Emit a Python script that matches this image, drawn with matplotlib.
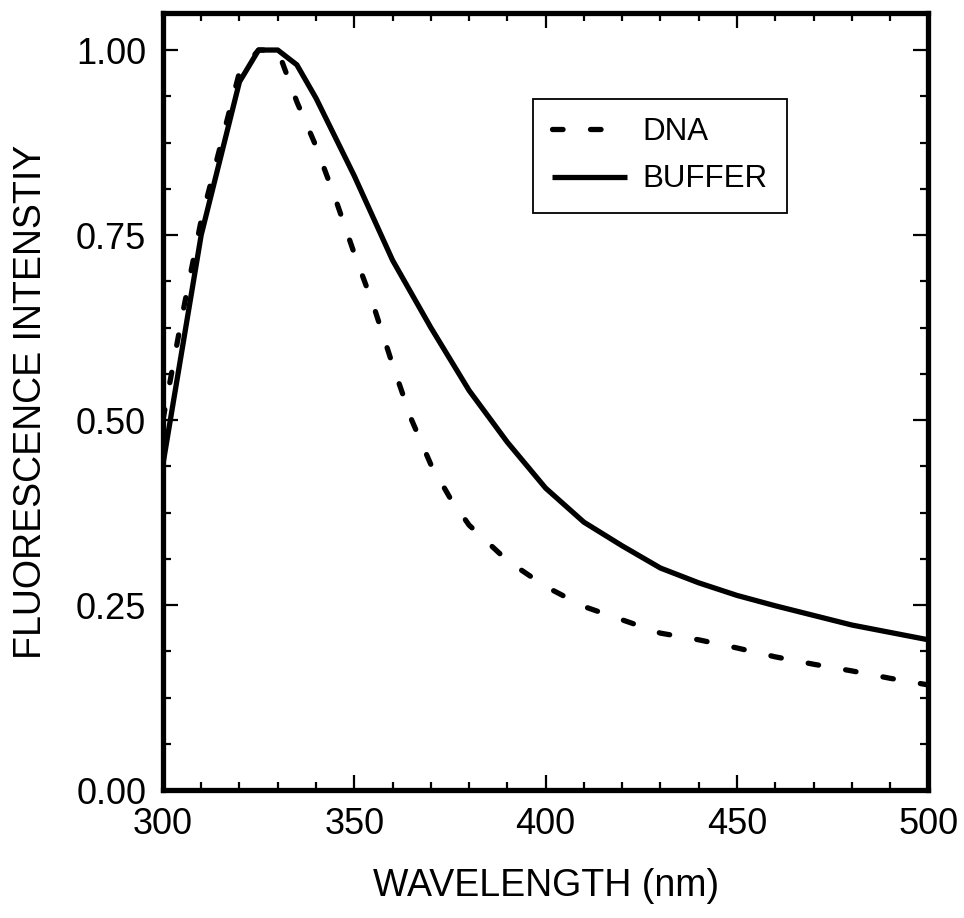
import numpy as np
import matplotlib.pyplot as plt
from matplotlib.ticker import MultipleLocator

plt.rcParams['font.family'] = ['Liberation Sans', 'DejaVu Sans']

# DNA spectrum (dashed)
dna_wl = [300, 305, 310, 315, 320, 325, 330, 335, 340, 345, 350, 355, 360, 365,
          370, 375, 380, 390, 400, 410, 420, 430, 440, 450, 460, 470, 480, 490, 500]
dna_int = [0.50, 0.64, 0.77, 0.87, 0.97, 1.00, 1.00, 0.93, 0.87, 0.80, 0.725, 0.655,
           0.575, 0.50, 0.44, 0.395, 0.358, 0.31, 0.275, 0.248, 0.23, 0.212, 0.203,
           0.192, 0.18, 0.17, 0.161, 0.151, 0.142]

# buffer spectrum (solid)
buf_wl = [300, 310, 320, 325, 330, 335, 340, 350, 360, 370, 380, 390, 400, 410,
          420, 430, 440, 450, 460, 470, 480, 490, 500]
buf_int = [0.44, 0.75, 0.957, 1.00, 1.00, 0.98, 0.935, 0.83, 0.716, 0.625, 0.54,
           0.47, 0.408, 0.362, 0.33, 0.30, 0.28, 0.263, 0.249, 0.236, 0.223, 0.213, 0.203]

fig = plt.figure(figsize=(9.64, 9.18), dpi=100)
ax = fig.add_axes([0.169, 0.1394, 0.794, 0.8464])

ax.plot(dna_wl, dna_int, color='black', lw=3.8, linestyle=(0, (2.0, 5.2)),
        dash_capstyle='round', label='DNA')
ax.plot(buf_wl, buf_int, color='black', lw=3.8, solid_capstyle='butt', label='BUFFER')

ax.set_xlim(300, 500)
ax.set_ylim(0, 1.05)
ax.xaxis.set_major_locator(MultipleLocator(50))
ax.xaxis.set_minor_locator(MultipleLocator(10))
ax.yaxis.set_major_locator(MultipleLocator(0.25))
ax.yaxis.set_minor_locator(MultipleLocator(0.0625))
ax.yaxis.set_major_formatter(plt.FuncFormatter(lambda v, p: f'{v:.2f}'))

ax.tick_params(which='both', direction='in', top=True, right=True, width=1.6,
               labelsize=26)
ax.tick_params(which='major', length=11, pad=12)
ax.tick_params(which='minor', length=6)
for s in ax.spines.values():
    s.set_linewidth(3.8)

ax.set_xlabel('WAVELENGTH (nm)', fontsize=27, labelpad=19)
ax.set_ylabel('FLUORESCENCE INTENSTIY', fontsize=27, labelpad=19)

leg = ax.legend(loc='upper left', bbox_to_anchor=(0.484, 0.89), borderaxespad=0,
                fontsize=22.5, handlelength=2.4, labelspacing=0.55, fancybox=False,
                edgecolor='black', framealpha=1, borderpad=0.6, handletextpad=0.5)
leg.get_frame().set_linewidth(1.3)

plt.savefig('out.png', dpi=100)
